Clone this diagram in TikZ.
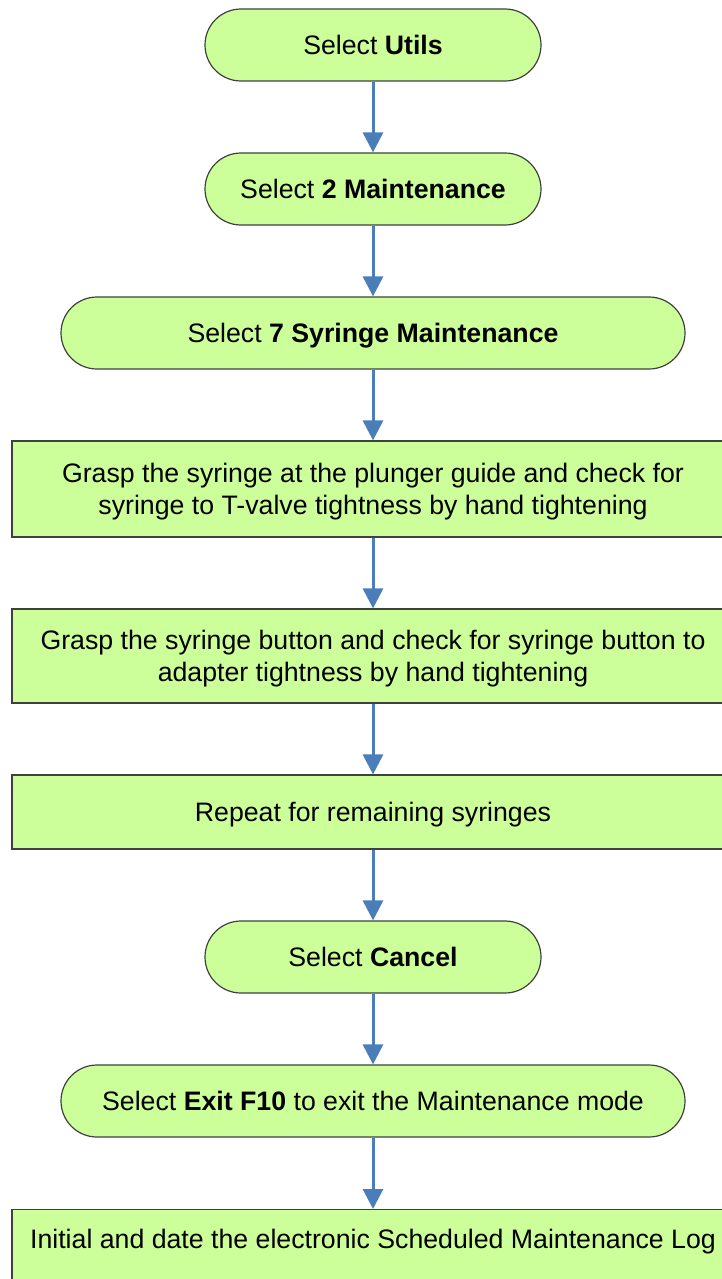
\documentclass[tikz,border=0pt]{standalone}
\usepackage{fontspec}
\setmainfont{Liberation Sans}
\usetikzlibrary{arrows.meta}
\definecolor{boxfill}{HTML}{CCFF99}
\definecolor{arrowblue}{HTML}{4A7EBB}
\definecolor{edgegray}{HTML}{404040}
\begin{document}
\begin{tikzpicture}[x=1pt,y=-1pt,
  base/.style={draw=edgegray, line width=1.2pt, fill=boxfill, font=\fontsize{26.7}{32}\selectfont, align=center, inner sep=0pt, text height=19.5pt, text depth=0pt},
  twoline/.style={text height=, text depth=},
  term/.style={base, rounded corners=36pt, minimum height=72pt},
  proc/.style={base, minimum width=722pt},
  flow/.style={draw=arrowblue, line width=3pt, -{Triangle[width=20pt,length=20pt]}}]
\useasboundingbox (0,0) rectangle (722,1279);
\node[term, minimum width=336pt] (n1) at (373,45) {Select \textbf{Utils}};
\node[term, minimum width=336pt] (n2) at (373,189) {Select \textbf{2 Maintenance}};
\node[term, minimum width=624pt] (n3) at (373,333) {Select \textbf{7 Syringe Maintenance}};
\node[proc, twoline, minimum height=96pt] (n4) at (373,489) {\rule{0pt}{24pt}Grasp the syringe at the plunger guide and check for\\syringe to T-valve tightness by hand tightening};
\node[proc, twoline, minimum height=94pt] (n5) at (373,656) {\rule{0pt}{24pt}Grasp the syringe button and check for syringe button to\\adapter tightness by hand tightening};
\node[proc, minimum height=74pt] (n6) at (373,812) {Repeat for remaining syringes};
\node[term, minimum width=336pt] (n7) at (373,957) {Select \textbf{Cancel}};
\node[term, minimum width=624pt] (n8) at (373,1101) {Select \textbf{Exit F10} to exit the Maintenance mode};
\node[proc, anchor=north, text height=38.5pt, text depth=42pt] (n9) at (373,1209) {Initial and date the electronic Scheduled Maintenance Log};
\draw[flow] (n1) -- (n2);
\draw[flow] (n2) -- (n3);
\draw[flow] (n3) -- (n4);
\draw[flow] (n4) -- (n5);
\draw[flow] (n5) -- (n6);
\draw[flow] (n6) -- (n7);
\draw[flow] (n7) -- (n8);
\draw[flow] (n8) -- (n9);
\end{tikzpicture}
\end{document}
